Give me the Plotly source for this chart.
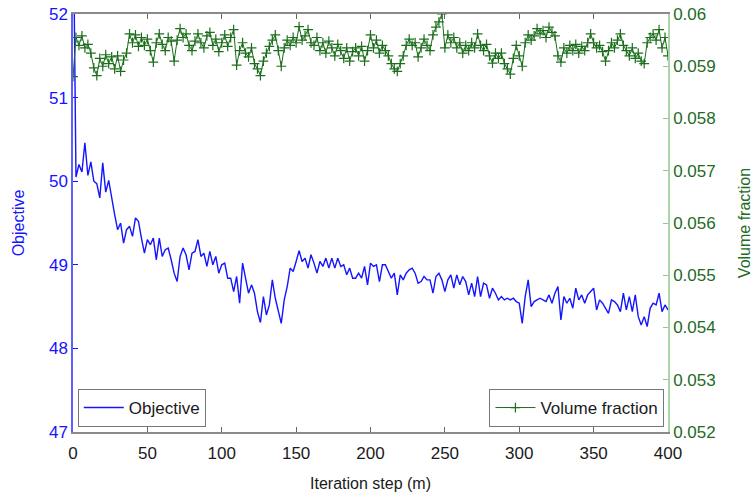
import plotly.graph_objects as go

# Iteration steps (every 2nd iteration)
steps = list(range(0, 401, 2))

objective = [
    53.5, 50.05, 50.2, 50.11, 50.46, 50.07, 50.23, 50.0, 49.97, 49.8,
    50.22, 49.87, 50.01, 49.78, 49.6, 49.42, 49.5, 49.26, 49.42, 49.46,
    49.34, 49.56, 49.52, 49.32, 49.14, 49.3, 49.24, 49.32, 49.06, 49.32,
    49.1, 49.18, 49.2, 49.06, 48.9, 48.8, 49.1, 49.2, 49.12, 48.94,
    49.14, 49.16, 49.3, 49.1, 49.14, 48.98, 49.16, 49.0, 49.1, 48.9,
    49.0, 49.02, 48.84, 48.84, 48.68, 48.86, 48.54, 49.02, 48.86, 48.66,
    48.76, 48.66, 48.44, 48.31, 48.62, 48.4, 48.52, 48.82, 48.6, 48.44,
    48.3, 48.58, 48.74, 48.96, 48.92, 49.04, 49.17, 49.04, 49.08, 48.96,
    49.12, 49.02, 48.9, 49.04, 48.98, 49.08, 48.96, 49.08, 48.96, 49.08,
    48.98, 49.0, 48.88, 48.96, 48.84, 48.84, 48.9, 48.84, 48.98, 48.76,
    49.02, 48.98, 49.0, 48.8, 49.0, 49.0, 48.92, 48.84, 48.9, 48.64,
    48.88, 48.82, 48.9, 48.94, 48.96, 48.9, 48.78, 48.8, 48.86, 48.82,
    48.82, 48.66, 48.86, 48.9, 48.82, 48.68, 48.82, 48.88, 48.72, 48.88,
    48.76, 48.86, 48.8, 48.64, 48.78, 48.62, 48.86, 48.62, 48.78, 48.76,
    48.6, 48.72, 48.66, 48.58, 48.62, 48.58, 48.6, 48.58, 48.6, 48.56,
    48.54, 48.3, 48.62, 48.82, 48.5, 48.56, 48.58, 48.6, 48.58, 48.56,
    48.64, 48.54, 48.66, 48.74, 48.34, 48.62, 48.54, 48.6, 48.48, 48.72,
    48.58, 48.64, 48.54, 48.64, 48.68, 48.72, 48.46, 48.58, 48.54, 48.48,
    48.42, 48.58, 48.56, 48.52, 48.44, 48.66, 48.46, 48.62, 48.44, 48.64,
    48.38, 48.28, 48.38, 48.26, 48.48, 48.54, 48.52, 48.66, 48.44, 48.52,
    48.46,
]

volume_fraction = [
    0.05880, 0.05955, 0.05940, 0.05958, 0.05935, 0.05942, 0.05925, 0.05897, 0.05882, 0.05915,
    0.05900, 0.05922, 0.05905, 0.05918, 0.05895, 0.05920, 0.05890, 0.05912, 0.05925, 0.05962,
    0.05945, 0.05960, 0.05938, 0.05955, 0.05940, 0.05952, 0.05930, 0.05908, 0.05945, 0.05962,
    0.05942, 0.05930, 0.05955, 0.05948, 0.05910, 0.05950, 0.05972, 0.05955, 0.05962, 0.05940,
    0.05930, 0.05948, 0.05962, 0.05945, 0.05935, 0.05958, 0.05965, 0.05940, 0.05952, 0.05928,
    0.05945, 0.05960, 0.05938, 0.05955, 0.05970, 0.05902, 0.05930, 0.05945, 0.05925, 0.05918,
    0.05935, 0.05905, 0.05895, 0.05882, 0.05910, 0.05925, 0.05938, 0.05950, 0.05960, 0.05930,
    0.05900, 0.05935, 0.05950, 0.05940, 0.05955, 0.05945, 0.05976, 0.05950, 0.05958, 0.05970,
    0.05945, 0.05940, 0.05955, 0.05930, 0.05945, 0.05925, 0.05948, 0.05935, 0.05920, 0.05942,
    0.05930, 0.05915, 0.05935, 0.05910, 0.05928, 0.05935, 0.05920, 0.05938, 0.05910, 0.05930,
    0.05960, 0.05935, 0.05950, 0.05925, 0.05940, 0.05930, 0.05920, 0.05905, 0.05895, 0.05890,
    0.05905, 0.05920, 0.05940, 0.05952, 0.05940, 0.05945, 0.05918, 0.05935, 0.05952, 0.05940,
    0.05930, 0.05960, 0.05975, 0.05985, 0.06000, 0.05935, 0.05960, 0.05945, 0.05955, 0.05935,
    0.05945, 0.05925, 0.05940, 0.05930, 0.05945, 0.05935, 0.05962, 0.05940, 0.05930, 0.05942,
    0.05920, 0.05906, 0.05925, 0.05915, 0.05925, 0.05905, 0.05895, 0.05885, 0.05915, 0.05940,
    0.05920, 0.05900, 0.05945, 0.05960, 0.05950, 0.05958, 0.05972, 0.05962, 0.05968, 0.05955,
    0.05975, 0.05965, 0.05958, 0.05920, 0.05908, 0.05935, 0.05925, 0.05940, 0.05930, 0.05942,
    0.05925, 0.05938, 0.05930, 0.05945, 0.05962, 0.05945, 0.05935, 0.05940, 0.05928, 0.05910,
    0.05930, 0.05945, 0.05935, 0.05950, 0.05962, 0.05940, 0.05930, 0.05920, 0.05935, 0.05915,
    0.05925, 0.05910, 0.05905, 0.05945, 0.05955, 0.05962, 0.05950, 0.05970, 0.05935, 0.05955,
    0.05920,
]

x_ticks = [0, 50, 100, 150, 200, 250, 300, 350, 400]
obj_ticks = [47, 48, 49, 50, 51, 52]
vf_ticks = [0.052, 0.053, 0.054, 0.055, 0.056, 0.057, 0.058, 0.059, 0.06]
vf_ticktext = ["0.052", "0.053", "0.054", "0.055", "0.056", "0.057", "0.058", "0.059", "0.06"]

FONT = "Arial, 'Liberation Sans', sans-serif"
BLUE = "#1414ff"
GREEN = "#1a6e1a"
GREEN_TXT = "#1f6b1f"

fig = go.Figure()
fig.add_trace(go.Scatter(
    x=steps, y=objective, name="Objective", mode="lines",
    line=dict(color=BLUE, width=1.4), yaxis="y", legend="legend",
))
fig.add_trace(go.Scatter(
    x=steps, y=volume_fraction, name="Volume fraction", mode="lines+markers",
    line=dict(color=GREEN, width=1),
    marker=dict(symbol="cross-thin", size=7, line=dict(color=GREEN, width=1.2)),
    yaxis="y2", legend="legend2",
))

fig.update_layout(
    width=755, height=493,
    margin=dict(l=73, r=87, t=14, b=61),
    paper_bgcolor="white", plot_bgcolor="white",
    font=dict(family=FONT, size=16, color="#1a1a1a"),
    xaxis=dict(
        range=[0, 400], tickvals=x_ticks, ticks="inside", ticklen=5,
        tickcolor="#666", linecolor="#8a8a8a", linewidth=1.5, mirror="ticks",
        showgrid=False, zeroline=False, automargin=False,
        ticklabelstandoff=5,
        title=dict(text="Iteration step (m)", standoff=16, font=dict(size=16)),
        tickfont=dict(size=17, color="#1a1a1a"),
    ),
    yaxis=dict(
        range=[47, 52], tickvals=obj_ticks, ticks="inside", ticklen=5,
        tickcolor=BLUE, linecolor="#6060ff", linewidth=1.5,
        showgrid=False, zeroline=False, automargin=False,
        title=dict(text="Objective", font=dict(color=BLUE, size=16), standoff=20),
        tickfont=dict(color=BLUE, size=17),
    ),
    yaxis2=dict(
        range=[0.052, 0.06], tickvals=vf_ticks, ticktext=vf_ticktext,
        overlaying="y", side="right", ticks="inside", ticklen=5,
        tickcolor="#8fc88f", linecolor="#a8d8a8", linewidth=1.5,
        showline=True, showgrid=False, zeroline=False, automargin=False,
        title=dict(text="Volume fraction", font=dict(color=GREEN_TXT, size=16), standoff=24),
        tickfont=dict(color=GREEN_TXT, size=17),
    ),
    legend=dict(
        x=0.008, y=0.012, xanchor="left", yanchor="bottom",
        bordercolor="#777", borderwidth=1, bgcolor="white",
        font=dict(size=17, color="#1a1a1a"), itemwidth=40,
    ),
    legend2=dict(
        x=0.994, y=0.012, xanchor="right", yanchor="bottom",
        bordercolor="#777", borderwidth=1, bgcolor="white",
        font=dict(size=17, color="#1a1a1a"), itemwidth=40,
    ),
    showlegend=True,
)

fig.write_html(
    "out.html",
    config={"displayModeBar": False},
    post_script="document.body.style.margin='0px';",
)
